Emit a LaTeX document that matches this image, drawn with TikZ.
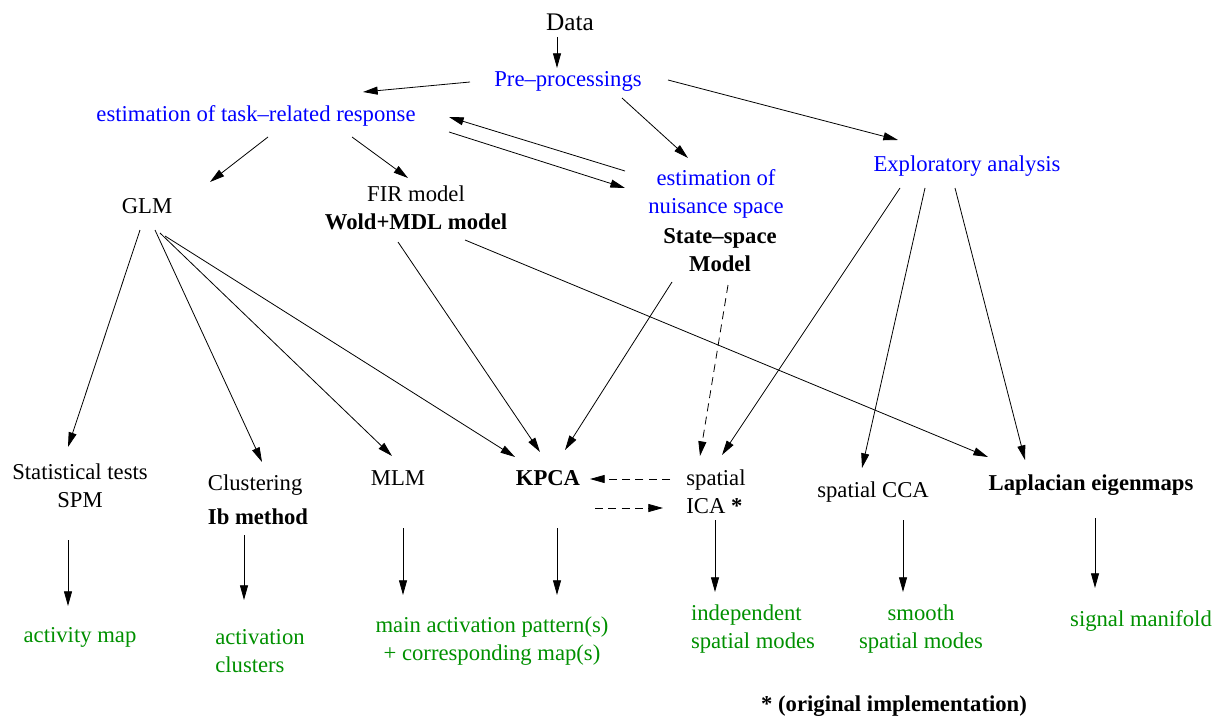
\documentclass[tikz,border=0pt]{standalone}
\usepackage{fontspec}
\setmainfont{Liberation Serif}
\usetikzlibrary{arrows.meta}
\definecolor{figgreen}{RGB}{0,144,0}
\newcommand{\fs}{\fontsize{17}{21}\selectfont}
\begin{document}
\begin{tikzpicture}[x=0.75pt,y=-0.75pt,
    lbl/.style={inner sep=0pt,anchor=base,font=\fs,align=center},
    est/.style={lbl,text=blue},
    res/.style={lbl,text=figgreen},
    arr/.style={-{Triangle[length=11pt,width=6pt]},line width=0.6pt},
    darr/.style={arr,dash pattern=on 6pt off 4pt}]
\useasboundingbox (0,0) rectangle (1220,717);
% top: data and estimations
\node[lbl,font=\fontsize{19}{23}\selectfont] (data) at (570,31) {Data};
\node[est] (pre) at (568,86) {Pre--processings};
\node[est] (task) at (256,121) {estimation of task--related response};
\node[est] (nuis) at (716,213) {estimation of\\nuisance space};
\node[lbl,font=\fs\bfseries] (ssm) at (720,271) {State--space\\Model};
\node[est] (expl) at (967,171) {Exploratory analysis};
\node[lbl] (fir) at (416,229) {FIR model\\\textbf{Wold+MDL model}};
\node[lbl] (glm) at (147,213) {GLM};
% methods
\node[lbl] (stat) at (80,507) {Statistical tests\\SPM};
\node[lbl,align=left] (clus) at (258,524) {Clustering\\[4pt]\textbf{Ib method}};
\node[lbl] (mlm) at (398,485) {MLM};
\node[lbl,font=\fs\bfseries] (kpca) at (548,485) {KPCA};
\node[lbl,align=left] (ica) at (716,513) {spatial\\ICA \textbf{*}};
\node[lbl] (cca) at (873,497) {spatial CCA};
\node[lbl,font=\fs\bfseries] (lap) at (1091,490) {Laplacian eigenmaps};
% results
\node[res] (act) at (80,642) {activity map};
\node[res,align=left] (clust) at (260,672) {activation\\clusters};
\node[res] (main) at (492,660) {main activation pattern(s)\\+ corresponding map(s)};
\node[res,align=left] (indep) at (753,648) {independent\\spatial modes};
\node[res] (smooth) at (921,648) {smooth\\spatial modes};
\node[res] (sig) at (1141,626) {signal manifold};
\node[lbl,font=\fs\bfseries] (note) at (894,711) {* (original implementation)};
% connectors
\foreach \a/\sa/\b/\sb in {data/{(-13,6)}/pre/{(-11,-18)}, pre/{(-98,-4)}/task/{(107,-29)},
    pre/{(54,12)}/nuis/{(-28,-55)}, pre/{(100,-6)}/expl/{(-69,-31)},
    task/{(193,11)}/nuis/{(-91,-25)}, nuis/{(-91,-42)}/task/{(193,-4)},
    task/{(12,16)}/glm/{(63,-31)}, task/{(96,16)}/fir/{(-8,-51)},
    glm/{(-7,17)}/stat/{(-12,-60)}, glm/{(8,17)}/clus/{(4,-62)},
    glm/{(13,20)}/mlm/{(-6,-29)}, glm/{(18,23)}/kpca/{(-33,-28)},
    fir/{(-18,13)}/kpca/{(-8,-33)}, fir/{(49,11)}/lap/{(-103,-33)},
    ssm/{(-48,11)}/kpca/{(17,-35)}, expl/{(-67,17)}/ica/{(6,-58)},
    expl/{(-42,17)}/cca/{(-11,-29)}, expl/{(-12,17)}/lap/{(-66,-30)},
    stat/{(-12,33)}/act/{(-12,-36)}, clus/{(-14,11)}/clust/{(-16,-72)},
    mlm/{(5,43)}/main/{(-89,-65)}, kpca/{(9,43)}/main/{(65,-65)},
    ica/{(-1,7)}/indep/{(-38,-56)}, cca/{(30,23)}/smooth/{(-18,-56)},
    lap/{(4,28)}/sig/{(-46,-38)}}
  \draw[arr] ([shift={\sa}]\a.base) -- ([shift={\sb}]\b.base);
\draw[darr] ([shift={(8,14)}]ssm.base) -- ([shift={(-16,-57)}]ica.base);
\draw[darr] ([shift={(-46,-34)}]ica.base) -- ([shift={(42,-6)}]kpca.base);
\draw[darr] ([shift={(47,23)}]kpca.base) -- ([shift={(-53,-5)}]ica.base);
\end{tikzpicture}
\end{document}
